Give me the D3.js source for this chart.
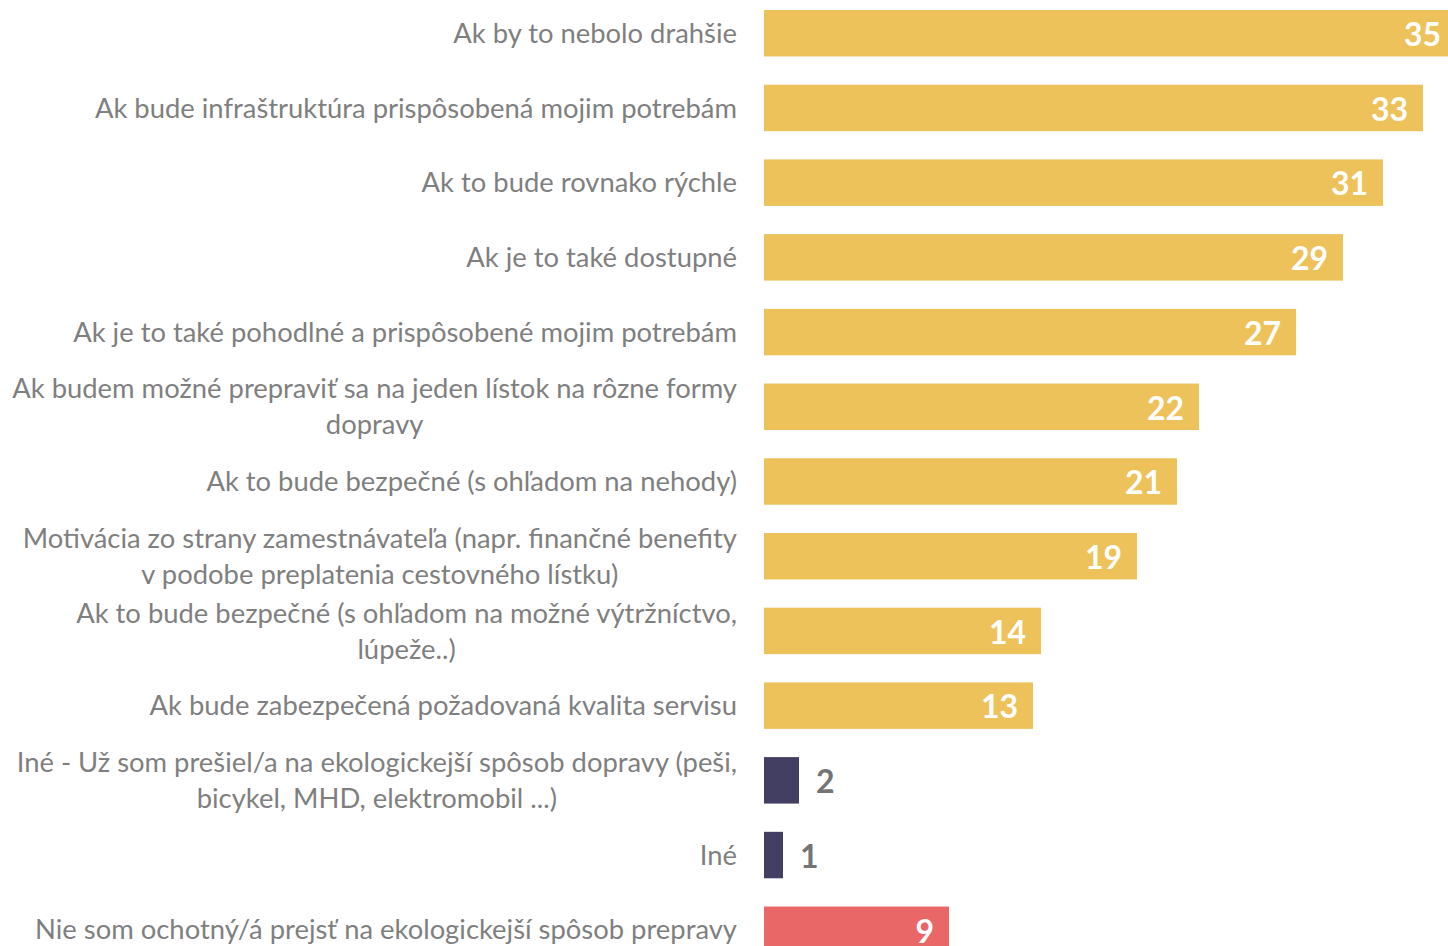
<!DOCTYPE html>
<html>
<head>
<meta charset="utf-8">
<script src="https://cdn.jsdelivr.net/npm/d3@7"></script>
<style>
  html, body { margin: 0; padding: 0; background: #fff; overflow: hidden; }
  svg { display: block; }
</style>
</head>
<body>
<div id="chart"></div>
<script>
// categories (each one split into the lines shown in the chart)
const categories = [
    ["Ak by to nebolo drahšie"],
    ["Ak bude infraštruktúra prispôsobená mojim potrebám"],
    ["Ak to bude rovnako rýchle"],
    ["Ak je to také dostupné"],
    ["Ak je to také pohodlné a prispôsobené mojim potrebám"],
    ["Ak budem možné prepraviť sa na jeden lístok na rôzne formy", "dopravy"],
    ["Ak to bude bezpečné (s ohľadom na nehody)"],
    ["Motivácia zo strany zamestnávateľa (napr. finančné benefity", "v podobe preplatenia cestovného lístku)"],
    ["Ak to bude bezpečné (s ohľadom na možné výtržníctvo,", "lúpeže..)"],
    ["Ak bude zabezpečená požadovaná kvalita servisu"],
    ["Iné - Už som prešiel/a na ekologickejší spôsob dopravy (peši,", "bicykel, MHD, elektromobil ...)"],
    ["Iné"],
    ["Nie som ochotný/á prejsť na ekologickejší spôsob prepravy"]
];
const values = [34.6, 32.95, 30.95, 28.95, 26.6, 21.75, 20.65, 18.65, 13.85, 13.45, 1.75, 0.95, 9.25];
const groups = ["yes", "yes", "yes", "yes", "yes", "yes", "yes", "yes", "yes", "yes", "other", "other", "no"];

const width = 1448, height = 946;
const color = d3.scaleOrdinal()
    .domain(["yes", "other", "no"])
    .range(["#EEC25A", "#433F63", "#E96766"]);

const data = categories.map((c, i) => ({ id: i, lines: c, value: values[i], group: groups[i] }));

const svg = d3.select("#chart").append("svg")
    .attr("width", width)
    .attr("height", height);

const x = d3.scaleLinear()
    .domain([0, 35])
    .range([764, 1464]);

const y = d3.scaleBand()
    .domain(data.map(d => d.id))
    .range([10, 953])
    .paddingInner(0.378)
    .paddingOuter(0);

// bars
svg.selectAll(".bar")
    .data(data)
    .enter().append("rect")
    .attr("class", "bar")
    .attr("x", x(0))
    .attr("y", d => y(d.id))
    .attr("width", d => x(d.value) - x(0))
    .attr("height", y.bandwidth())
    .attr("fill", d => color(d.group));

// value labels
svg.selectAll(".val")
    .data(data)
    .enter().append("text")
    .attr("class", "val")
    .attr("x", d => d.value > 5 ? x(d.value) - 15 : x(d.value) + 17)
    .attr("y", d => y(d.id) + y.bandwidth() / 2)
    .attr("dy", "0.4em")
    .attr("text-anchor", d => d.value > 5 ? "end" : "start")
    .style("font-family", "Lato, 'Open Sans', sans-serif")
    .style("font-weight", "bold")
    .style("font-size", "32px")
    .attr("fill", d => d.value > 5 ? "#ffffff" : "#747474")
    .text(d => Math.round(d.value));

// category labels: block right-aligned at 737, lines centred within the block
const lineH = 36;
const labelRight = 737;
const lab = svg.selectAll(".lab")
    .data(data)
    .enter().append("text")
    .attr("class", "lab")
    .attr("text-anchor", "middle")
    .style("font-family", "Lato, 'Open Sans', sans-serif")
    .style("font-size", "27.4px")
    .attr("fill", "#7f7f7f");

lab.selectAll("tspan")
    .data(d => d.lines.map((t, k) => ({ t: t, k: k, n: d.lines.length, d: d })))
    .enter().append("tspan")
    .attr("y", l => y(l.d.id) + y.bandwidth() / 2 + (l.k - (l.n - 1) / 2) * lineH)
    .attr("dy", "0.35em")
    .text(l => l.t);

lab.each(function () {
    const spans = d3.select(this).selectAll("tspan");
    let maxW = 0;
    spans.each(function () { maxW = Math.max(maxW, this.getComputedTextLength()); });
    spans.attr("x", labelRight - maxW / 2);
});
</script>
</body>
</html>
